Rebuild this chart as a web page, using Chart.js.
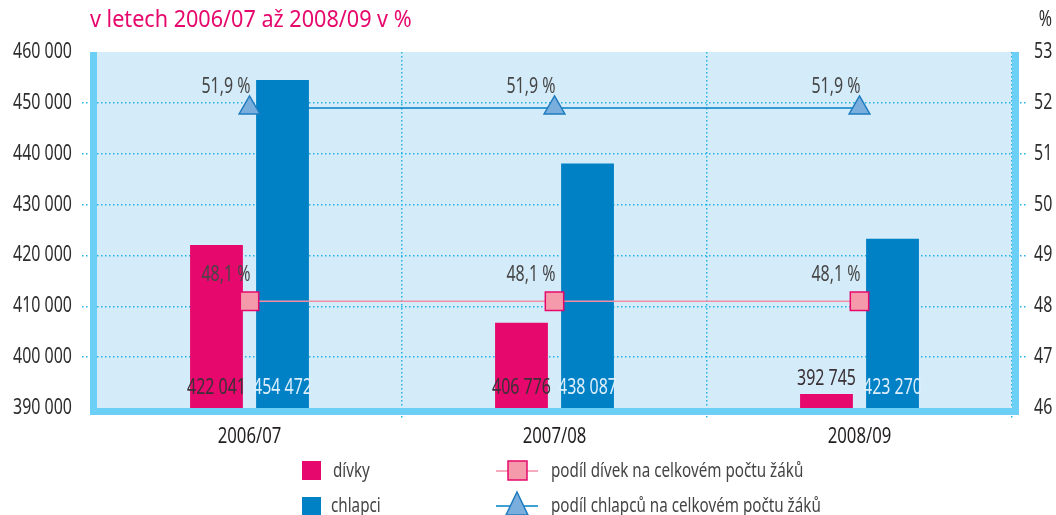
<!DOCTYPE html>
<html>
<head>
<meta charset="utf-8">
<script src="https://cdn.jsdelivr.net/npm/chart.js@4"></script>
<style>
  html, body { margin: 0; padding: 0; background: #fff; }
  #wrap { width: 1056px; height: 515px; }
</style>
</head>
<body>
<div id="wrap"><canvas id="pupilsChart" width="1056" height="515"></canvas></div>
<script>
const categories = ['2006/07', '2007/08', '2008/09'];
const girls = [422041, 406776, 392745];
const boys = [454472, 438087, 423270];
const girlsShare = [48.1, 48.1, 48.1];
const boysShare = [51.9, 51.9, 51.9];
const countTicks = [390000, 400000, 410000, 420000, 430000, 440000, 450000, 460000];
const shareTicks = [46, 47, 48, 49, 50, 51, 52, 53];

const FONT = '"Noto Sans", "Open Sans", sans-serif';
const COND = 0.76; // squeeze text horizontally, the original uses a condensed face
const PINK = '#E6086C';
const BLUE = '#0080C5';
const GRID = '#22B4E6';

const fmt = n => String(n).replace(/\B(?=(\d{3})+(?!\d))/g, ' ');
const pct = v => v.toFixed(1).replace('.', ',') + ' %';

function txt(ctx, s, x, y, size, align, color, sx) {
  ctx.save();
  ctx.font = size + 'px ' + FONT;
  ctx.fillStyle = color;
  ctx.textAlign = align;
  ctx.textBaseline = 'middle';
  ctx.translate(x, y);
  ctx.scale(sx || COND, 1);
  ctx.fillText(s, 0, 0);
  ctx.restore();
}

// light blue plot background + thick frame on left, right, bottom
const plotFrame = {
  id: 'plotFrame',
  beforeDraw(chart) {
    const { ctx, chartArea: a } = chart;
    ctx.save();
    ctx.fillStyle = '#D4ECF9';
    ctx.fillRect(a.left, a.top, a.right - a.left, a.bottom - a.top);
    ctx.restore();
  },
  beforeDatasetsDraw(chart) {
    const { ctx, chartArea: a } = chart;
    ctx.save();
    ctx.fillStyle = '#6CCFF6';
    ctx.fillRect(a.left - 7, a.top, 7, a.bottom - a.top + 7);
    ctx.fillRect(a.right, a.top, 7, a.bottom - a.top + 7);
    ctx.fillRect(a.left - 7, a.bottom, a.right - a.left + 14, 7);
    ctx.restore();
  }
};

// value labels, axis labels (condensed), title and legend
const labels = {
  id: 'labels',
  afterDatasetsDraw(chart) {
    const { ctx } = chart;
    [0, 1].forEach(di => {
      chart.getDatasetMeta(di).data.forEach((el, i) => {
        const v = chart.data.datasets[di].data[i];
        const inside = el.y < 372;
        const y = inside ? 388 : el.y - 15;
        const color = (di === 1 && inside) ? '#DCEEFB' : '#3A3035';
        txt(ctx, fmt(v), el.x, y, 21, 'center', color);
      });
    });
    [2, 3].forEach(di => {
      chart.getDatasetMeta(di).data.forEach((el, i) => {
        const v = chart.data.datasets[di].data[i];
        txt(ctx, pct(v), el.x + 1, el.y - (di === 2 ? 26 : 21), 21, 'right', '#464646');
      });
    });
  },
  afterDraw(chart) {
    const { ctx, scales } = chart;
    // axis labels
    scales.y.ticks.forEach((t, i) => {
      txt(ctx, fmt(t.value), 72, scales.y.getPixelForTick(i), 21, 'right', '#2E2E2E');
    });
    scales.y2.ticks.forEach((t, i) => {
      txt(ctx, String(t.value), 1034, scales.y2.getPixelForTick(i), 21, 'left', '#2E2E2E');
    });
    categories.forEach((c, i) => {
      txt(ctx, c, scales.x.getPixelForTick(i), 437, 22, 'center', '#231F20');
    });

    txt(ctx, 'v letech 2006/07 až 2008/09 v %', 90, 20, 24, 'left', PINK, 0.9);
    txt(ctx, '%', 1052, 20, 21, 'right', '#2E2E2E');

    // legend
    ctx.save();
    ctx.fillStyle = PINK;
    ctx.fillRect(302, 461, 19, 19);
    ctx.fillStyle = BLUE;
    ctx.fillRect(302, 497, 19, 19);

    ctx.lineWidth = 1.5;
    ctx.strokeStyle = '#F28FA5';
    ctx.beginPath(); ctx.moveTo(496, 471); ctx.lineTo(538, 471); ctx.stroke();
    ctx.fillStyle = '#F49AAB';
    ctx.strokeStyle = PINK;
    ctx.fillRect(508, 461, 19, 19);
    ctx.strokeRect(508, 461, 19, 19);

    ctx.strokeStyle = BLUE;
    ctx.beginPath(); ctx.moveTo(496, 506); ctx.lineTo(538, 506); ctx.stroke();
    ctx.fillStyle = '#7AAEDD';
    ctx.strokeStyle = '#1F7CC0';
    ctx.beginPath(); ctx.moveTo(517, 492); ctx.lineTo(528, 515); ctx.lineTo(506, 515); ctx.closePath();
    ctx.fill(); ctx.stroke();
    ctx.restore();

    txt(ctx, 'dívky', 333, 471, 20, 'left', '#444');
    txt(ctx, 'chlapci', 331, 506, 20, 'left', '#444');
    txt(ctx, 'podíl dívek na celkovém počtu žáků', 551, 471, 20, 'left', '#444');
    txt(ctx, 'podíl chlapců na celkovém počtu žáků', 551, 506, 20, 'left', '#444');
  }
};

// no dotted line on the outermost ticks
const innerOnly = last => c => (c.index === 0 || c.index === last) ? 'transparent' : GRID;
const dotted = last => ({
  color: innerOnly(last),
  lineWidth: 1.5,
  tickColor: innerOnly(last),
  tickWidth: 1.5,
  tickBorderDash: [1.5, 2.5]
});
const hiddenTicks = { color: 'transparent', font: { family: FONT, size: 21 } };

new Chart(document.getElementById('pupilsChart'), {
  type: 'bar',
  data: {
    labels: categories,
    datasets: [
      { label: 'dívky', data: girls, backgroundColor: PINK, yAxisID: 'y', order: 2,
        categoryPercentage: 0.433, barPercentage: 0.8 },
      { label: 'chlapci', data: boys, backgroundColor: BLUE, yAxisID: 'y', order: 2,
        categoryPercentage: 0.433, barPercentage: 0.8 },
      { type: 'line', label: 'podíl dívek na celkovém počtu žáků', data: girlsShare, yAxisID: 'y2', order: 0,
        borderColor: '#F28FA5', borderWidth: 1.5, pointStyle: 'rect', pointRadius: 13,
        pointBackgroundColor: '#F49AAB', pointBorderColor: PINK, pointBorderWidth: 1.5 },
      { type: 'line', label: 'podíl chlapců na celkovém počtu žáků', data: boysShare, yAxisID: 'y2', order: 0,
        borderColor: BLUE, borderWidth: 1.5, pointStyle: 'triangle', pointRadius: 12,
        pointBackgroundColor: '#7AAEDD', pointBorderColor: '#1F7CC0', pointBorderWidth: 1.5 }
    ]
  },
  options: {
    responsive: false,
    animation: false,
    layout: { padding: { top: 52, left: 0, right: 0, bottom: 0 } },
    plugins: {
      legend: { display: false },
      title: { display: false },
      tooltip: { enabled: false }
    },
    scales: {
      x: {
        offset: true,
        grid: { ...dotted(categories.length), offset: true, tickLength: 12 },
        border: { display: false, dash: [1.5, 2.5] },
        ticks: { ...hiddenTicks },
        afterFit: s => { s.height = 107; }
      },
      y: {
        position: 'left',
        min: countTicks[0],
        max: countTicks[countTicks.length - 1],
        afterBuildTicks: s => { s.ticks = countTicks.map(v => ({ value: v })); },
        grid: { ...dotted(countTicks.length - 1), tickLength: 15 },
        border: { display: false, dash: [1.5, 2.5] },
        ticks: { ...hiddenTicks },
        afterFit: s => { s.width = 97; }
      },
      y2: {
        position: 'right',
        min: shareTicks[0],
        max: shareTicks[shareTicks.length - 1],
        afterBuildTicks: s => { s.ticks = shareTicks.map(v => ({ value: v })); },
        grid: { ...dotted(shareTicks.length - 1), drawOnChartArea: false, tickLength: 15 },
        border: { display: false, dash: [1.5, 2.5] },
        ticks: { ...hiddenTicks },
        afterFit: s => { s.width = 44; }
      }
    }
  },
  plugins: [plotFrame, labels]
});
</script>
</body>
</html>
